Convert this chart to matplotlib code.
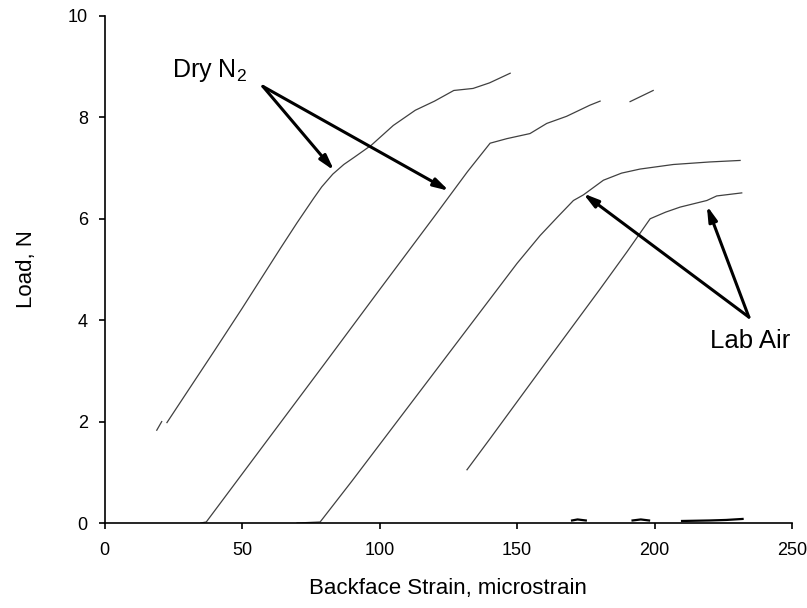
import numpy as np
import matplotlib.pyplot as plt

plt.rcParams['font.family'] = ['Liberation Sans', 'DejaVu Sans']
plt.rcParams['mathtext.fontset'] = 'custom'
plt.rcParams['mathtext.rm'] = 'Liberation Sans'

nan = np.nan

# Dry N2, first specimen (with short lead-in piece)
dry1_lead_x = [19.0, 20.8]
dry1_lead_y = [1.83, 2.0]
dry1_x = [22.7, 30, 40, 50, 60, 64, 70, 76, 79, 83, 87, 91, 97, 105, 113, 120, 127, 134, 140, 147.5]
dry1_y = [1.98, 2.58, 3.4, 4.23, 5.08, 5.42, 5.92, 6.4, 6.63, 6.88, 7.07, 7.22, 7.45, 7.84, 8.14, 8.32, 8.53, 8.57, 8.68, 8.87]

# Dry N2, second specimen
dry2_x = [35, 37, 60, 80, 100, 120, 132, 140.2, 146.3, 154.7, 160.8, 168, 176.5, 180.2, nan, 191.1, 199.5]
dry2_y = [0, 0.02, 1.69, 3.14, 4.6, 6.05, 6.93, 7.49, 7.58, 7.68, 7.88, 8.02, 8.24, 8.32, nan, 8.31, 8.53]

# Lab air, first specimen
lab1_x = [70, 78.4, 90, 110, 130, 150, 158.4, 165, 170.5, 174.1, 181.4, 188, 194.7, 206.8, 220, 231.1]
lab1_y = [0, 0.02, 0.83, 2.26, 3.69, 5.12, 5.67, 6.05, 6.36, 6.47, 6.76, 6.9, 6.98, 7.07, 7.12, 7.15]

# Lab air, second specimen
lab2_x = [131.8, 140, 160, 180, 190, 198.4, 204, 209.3, 219, 222.6, 231.7]
lab2_y = [1.05, 1.65, 3.13, 4.6, 5.35, 6.0, 6.13, 6.23, 6.36, 6.45, 6.51]

# noise along the baseline
base_x = [170, 172, 175, nan, 192, 195, 198, nan, 210, 220, 226, 232]
base_y = [0.05, 0.07, 0.05, nan, 0.05, 0.07, 0.05, nan, 0.04, 0.05, 0.06, 0.08]

fig = plt.figure(figsize=(8.07, 6.08), dpi=100)
ax = fig.add_axes([0.1295, 0.1398, 0.852, 0.834])

lc = '#404040'
for xs, ys in [(dry1_lead_x, dry1_lead_y), (dry1_x, dry1_y), (dry2_x, dry2_y),
               (lab1_x, lab1_y), (lab2_x, lab2_y)]:
    ax.plot(xs, ys, color=lc, lw=0.9)
ax.plot(base_x, base_y, color='black', lw=1.6)

arrow = dict(arrowstyle='-|>,head_length=0.9,head_width=0.25', color='black', lw=2.2,
             shrinkA=0, shrinkB=0)
ax.annotate('', xy=(83.5, 6.95), xytext=(57.6, 8.61), arrowprops=arrow)
ax.annotate('', xy=(125.3, 6.55), xytext=(57.6, 8.61), arrowprops=arrow)
ax.annotate('', xy=(174, 6.50), xytext=(234.3, 4.06), arrowprops=arrow)
ax.annotate('', xy=(219, 6.26), xytext=(234.3, 4.06), arrowprops=arrow)

ax.text(24.5, 8.93, r'Dry N$_\mathregular{2}$', fontsize=18, va='center', ha='left')
ax.text(220.2, 3.58, 'Lab Air', fontsize=18.5, va='center', ha='left')

ax.set_xlim(0, 250)
ax.set_ylim(0, 10)
ax.set_xticks([0, 50, 100, 150, 200, 250])
ax.set_yticks([0, 2, 4, 6, 8, 10])
ax.spines['top'].set_visible(False)
ax.spines['right'].set_visible(False)
ax.spines['left'].set_linewidth(1.2)
ax.spines['bottom'].set_linewidth(1.2)
ax.tick_params(direction='out', length=4, width=1.2, labelsize=13)
ax.tick_params(axis='x', pad=10)
ax.tick_params(axis='y', pad=8)

ax.set_xlabel('Backface Strain, microstrain', fontsize=16, labelpad=13)
ax.set_ylabel('Load, N', fontsize=16, labelpad=22)

fig.savefig('out.png', dpi=100)
